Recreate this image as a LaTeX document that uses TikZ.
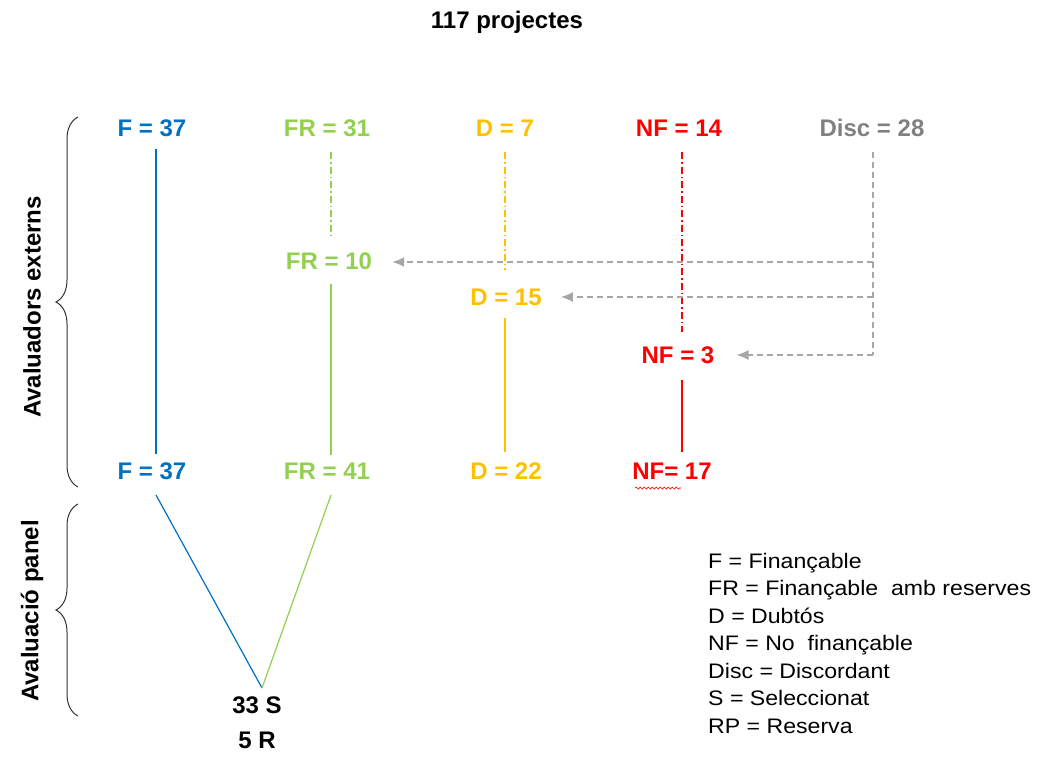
\documentclass[tikz,border=0pt]{standalone}
\usepackage{fontspec}
\setmainfont{Liberation Sans}
\newfontfamily\legfont[FakeStretch=1.1]{Liberation Sans}
\usetikzlibrary{arrows.meta,decorations.pathreplacing,decorations.pathmorphing}
\definecolor{cF}{HTML}{0070C0}
\definecolor{cFR}{HTML}{92D050}
\definecolor{cD}{HTML}{FFC000}
\definecolor{cNF}{HTML}{FF0000}
\definecolor{cDisc}{HTML}{808080}
\definecolor{cLine}{HTML}{A6A6A6}
\tikzset{
  lbl/.style={font=\fontsize{24}{28}\selectfont\bfseries, inner sep=0pt, anchor=center},
  solidln/.style={line width=1.2pt},
  dashdot/.style={line width=1.2pt, dash pattern=on 7pt off 3pt on 1.5pt off 3pt},
  discln/.style={cLine, line width=1.4pt, dash pattern=on 6pt off 4pt},
  discarrow/.style={discln, -{Latex[length=12pt,width=10pt]}},
  legend/.style={font=\legfont\fontsize{21}{27.5}\selectfont, anchor=north west, inner sep=0pt, align=left},
  bracepath/.style={decorate, decoration={brace, amplitude=22pt}, line width=1pt, draw=black!80}
}
\begin{document}
\begin{tikzpicture}[x=1pt,y=-1pt]
\useasboundingbox (0,0) rectangle (1038,756);
% title
\node[lbl] (title) at (507,22) {117 projectes};
% top row
\node[lbl, text=cF] (F1) at (152,128) {F = 37};
\node[lbl, text=cFR] (FR1) at (327,128) {FR = 31};
\node[lbl, text=cD] (D1) at (505,128) {D = 7};
\node[lbl, text=cNF] (NF1) at (679,128) {NF = 14};
\node[lbl, text=cDisc] (Disc) at (872,128) {Disc = 28};
% middle
\node[lbl, text=cFR] (FR2) at (329,261) {FR = 10};
\node[lbl, text=cD] (D2) at (506,297) {D = 15};
\node[lbl, text=cNF] (NF2) at (678,355) {NF = 3};
% bottom row
\node[lbl, text=cF] (F3) at (152,471) {F = 37};
\node[lbl, text=cFR] (FR3) at (327,471) {FR = 41};
\node[lbl, text=cD] (D3) at (506,471) {D = 22};
\node[lbl, text=cNF] (NF3) at (672,471) {NF= 17};
\draw[cNF, line width=0.7pt, decorate, decoration={snake, amplitude=1pt, segment length=4pt}] (635,488) -- (681,488);
% panel result
\node[lbl] (S) at (257,705) {33 S};
\node[lbl] (R) at (257,740) {5 R};
\coordinate (vtx) at (262,688);
% vertical connectors
\draw[cF, solidln] (F1.south) ++(4,12) -- ([xshift=4pt,yshift=8pt]F3.north);
\draw[cFR, dashdot] (331,152) -- (331,235);
\draw[cFR, solidln] (331,284) -- (331,455);
\draw[cD, dashdot] (505,152) -- (505,270);
\draw[cD, solidln] (505,318) -- (505,452);
\draw[cNF, dashdot] (682,152) -- (682,332);
\draw[cNF, solidln] (682,380) -- (682,452);
% discordant
\coordinate (d1) at (873,262);
\coordinate (d2) at (873,297);
\coordinate (d3) at (873,355);
\draw[discln] (873,152) -- (d3);
\draw[discarrow] (d1) -- ([xshift=20pt]FR2.east |- d1);
\draw[discarrow] (d2) -- ([xshift=19pt]D2.east |- d2);
\draw[discarrow] (d3) -- ([xshift=22pt]NF2.east |- d3);
% panel lines
\draw[cF, solidln] (156,495) -- (vtx);
\draw[cFR, solidln] (331,495) -- (vtx);
% braces
\draw[bracepath] (78,487) -- (78,117);
\draw[bracepath] (78,716) -- (78,504);
\node[lbl, rotate=90] (ext) at (32,307) {Avaluadors externs};
\node[lbl, rotate=90] (pan) at (32,611) {Avaluació panel};
% legend
\node[legend] (leg) at (708,553) {F = Finançable\\FR = Finançable\ \ amb reserves\\D = Dubtós\\NF = No\ \ finançable\\Disc = Discordant\\S = Seleccionat\\RP = Reserva};
\end{tikzpicture}
\end{document}
